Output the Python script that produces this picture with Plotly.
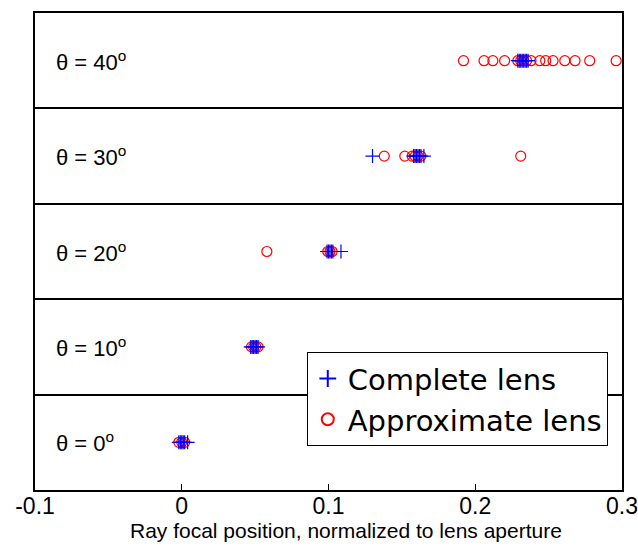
import plotly.graph_objects as go

angles = ["0", "10", "20", "30", "40"]
row_pos = [0.5, 1.5, 2.5, 3.5, 4.5]

complete_0 = [-0.002, -0.001, 0.0, 0.001, 0.002, 0.004]
approx_0 = [-0.002, 0.0, 0.002]
complete_10 = [0.047, 0.048, 0.049, 0.050, 0.051, 0.052]
approx_10 = [0.0475, 0.049, 0.0505, 0.052]
complete_20 = [0.099, 0.100, 0.101, 0.102, 0.103, 0.1085]
approx_20 = [0.058, 0.0995, 0.101, 0.1025]
complete_30 = [0.130, 0.158, 0.159, 0.160, 0.161, 0.162, 0.163, 0.165]
approx_30 = [0.138, 0.152, 0.157, 0.159, 0.161, 0.163, 0.231]
complete_40 = [0.229, 0.230, 0.231, 0.232, 0.233, 0.234, 0.235, 0.236]
approx_40 = [0.192, 0.206, 0.212, 0.220, 0.229, 0.231, 0.233, 0.235, 0.238,
             0.244, 0.248, 0.253, 0.261, 0.268, 0.278, 0.296]

complete_sets = [complete_0, complete_10, complete_20, complete_30, complete_40]
approx_sets = [approx_0, approx_10, approx_20, approx_30, approx_40]

x_ticks = [-0.1, 0, 0.1, 0.2, 0.3]
x_tick_text = ["-0.1", "0", "0.1", "0.2", "0.3"]
x_title = "Ray focal position, normalized to lens aperture"

cx, cy, ax_, ay = [], [], [], []
for pos, c, a in zip(row_pos, complete_sets, approx_sets):
    cx += c
    cy += [pos] * len(c)
    ax_ += a
    ay += [pos] * len(a)

fig = go.Figure()
fig.add_trace(go.Scatter(
    x=ax_, y=ay, mode="markers", name="Approximate lens",
    marker=dict(symbol="circle-open", color="red", size=10, line=dict(width=1.2)),
))
fig.add_trace(go.Scatter(
    x=cx, y=cy, mode="markers", name="Complete lens",
    marker=dict(symbol="cross-thin-open", color="blue", size=10, line=dict(width=1.2, color="blue")),
))

for pos, ang in zip(row_pos, angles):
    fig.add_annotation(
        x=-0.087, y=pos, xref="x", yref="y", xanchor="left", yanchor="middle",
        text="θ = " + ang + "<sup>o</sup>", showarrow=False,
        font=dict(family="Arial, Liberation Sans", size=22, color="black"),
    )

fig.add_annotation(
    x=0.53, y=0.0, xref="paper", yref="paper", xanchor="center", yanchor="top",
    yshift=-27, text=x_title, showarrow=False,
    font=dict(family="Arial, Liberation Sans", size=21, color="black"),
)

fig.update_layout(
    width=638, height=547,
    margin=dict(l=35, r=16, t=13, b=57, autoexpand=False),
    paper_bgcolor="white", plot_bgcolor="white",
    showlegend=True,
    legend=dict(
        x=0.463, y=0.289, xanchor="left", yanchor="top",
        bgcolor="white", bordercolor="black", borderwidth=1,
        font=dict(family="DejaVu Sans", size=29, color="black"),
        traceorder="reversed", itemsizing="constant",
        tracegroupgap=0, itemwidth=30,
    ),
    font=dict(family="Arial, Liberation Sans", color="black"),
)
fig.update_xaxes(
    range=[-0.1, 0.3], tickvals=x_ticks, ticktext=x_tick_text,
    ticks="inside", ticklen=6, tickcolor="black", automargin=False,
    ticklabelstandoff=-5,
    showline=True, linecolor="black", linewidth=1.5, mirror=True,
    showgrid=False, zeroline=False,
    tickfont=dict(size=23, family="Arial, Liberation Sans"),
)
fig.update_yaxes(
    range=[0, 5], tick0=0, dtick=1, showticklabels=False, ticks="",
    showgrid=True, gridcolor="black", gridwidth=1.5, automargin=False,
    showline=True, linecolor="black", linewidth=1.5, mirror=True,
    zeroline=False,
)
fig.write_html("out.html")
